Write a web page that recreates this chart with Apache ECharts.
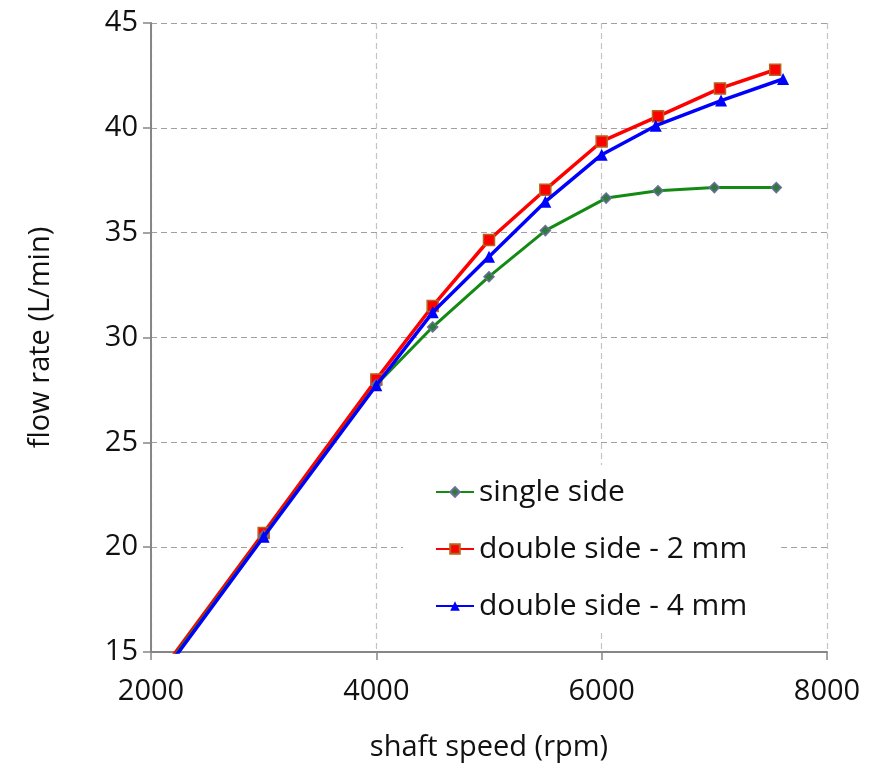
<!DOCTYPE html>
<html>
<head>
<meta charset="utf-8">
<script src="https://cdn.jsdelivr.net/npm/echarts@6/dist/echarts.min.js"></script>
<style>
  html, body { margin: 0; padding: 0; background: #fff; }
  #chart { width: 883px; height: 770px; }
</style>
</head>
<body>
<div id="chart"></div>
<script>
// shaft speed (rpm) / flow rate (L/min)
var single_x = [2000, 3000, 4000, 4500, 5000, 5500, 6040, 6500, 7000, 7550];
var single_y = [13.3, 20.55, 27.75, 30.5, 32.9, 35.1, 36.65, 37.0, 37.15, 37.15];

var double2_x = [2000, 3000, 4000, 4500, 5000, 5500, 6000, 6500, 7050, 7540];
var double2_y = [13.4, 20.68, 28.0, 31.5, 34.65, 37.05, 39.35, 40.55, 41.88, 42.77];

var double4_x = [2000, 3000, 4000, 4500, 5000, 5500, 6000, 6480, 7060, 7610];
var double4_y = [13.2, 20.5, 27.72, 31.2, 33.85, 36.48, 38.72, 40.1, 41.3, 42.33];

var names = ['single side', 'double side - 2 mm', 'double side - 4 mm'];

function pairs(xs, ys) {
  var out = [];
  for (var i = 0; i < xs.length; i++) {
    out.push([xs[i], ys[i]]);
  }
  return out;
}

var font = 'Open Sans';
var chart = echarts.init(document.getElementById('chart'));
chart.setOption({
  animation: false,
  backgroundColor: '#fff',
  grid: { left: 151, right: 56, top: 23, bottom: 118 },
  legend: {
    left: 403,
    top: 465,
    orient: 'vertical',
    backgroundColor: '#fff',
    padding: [12, 34, 10, 32],
    itemWidth: 38,
    itemHeight: 12,
    itemGap: 27,
    textStyle: { fontFamily: font, fontSize: 30, color: '#111' },
    data: names
  },
  xAxis: {
    type: 'value',
    min: 2000,
    max: 8000,
    interval: 2000,
    name: 'shaft speed (rpm)',
    nameLocation: 'middle',
    nameGap: 81,
    nameTextStyle: { fontFamily: font, fontSize: 29, color: '#111' },
    axisLine: { show: true, lineStyle: { color: '#868686', width: 2 } },
    axisTick: { show: true, length: 8, lineStyle: { color: '#868686', width: 1.5 } },
    axisLabel: {
      fontFamily: font, fontSize: 29, color: '#111', margin: 25,
      formatter: function (v) { return String(v); }
    },
    splitLine: { show: true, lineStyle: { color: '#c4c4c4', type: [6, 4], width: 1.2 } }
  },
  yAxis: {
    type: 'value',
    min: 15,
    max: 45,
    interval: 5,
    name: 'flow rate (L/min)',
    nameLocation: 'middle',
    nameGap: 96,
    nameTextStyle: { fontFamily: font, fontSize: 29, color: '#111' },
    axisLine: { show: true, lineStyle: { color: '#868686', width: 2 } },
    axisTick: { show: true, length: 8, lineStyle: { color: '#868686', width: 1.5 } },
    axisLabel: { fontFamily: font, fontSize: 29, color: '#111', margin: 13 },
    splitLine: { show: true, lineStyle: { color: '#a0a0a0', type: [6, 4], width: 1.2 } }
  },
  series: [
    {
      name: names[0],
      type: 'line',
      clip: true,
      data: pairs(single_x, single_y),
      symbol: 'diamond',
      symbolSize: 10,
      z: 3,
      lineStyle: { color: '#138a13', width: 3 },
      itemStyle: { color: '#2f7a3a', borderColor: '#6a6f9a', borderWidth: 1.5 }
    },
    {
      name: names[1],
      type: 'line',
      clip: true,
      data: pairs(double2_x, double2_y),
      symbol: 'rect',
      symbolSize: 11,
      z: 2,
      lineStyle: { color: '#ff0000', width: 3.5 },
      itemStyle: { color: '#ff0000', borderColor: '#b5651d', borderWidth: 1.5 }
    },
    {
      name: names[2],
      type: 'line',
      clip: true,
      data: pairs(double4_x, double4_y),
      symbol: 'triangle',
      symbolSize: 12,
      z: 4,
      lineStyle: { color: '#0000ff', width: 3.5 },
      itemStyle: { color: '#0000ff' }
    }
  ]
});
</script>
</body>
</html>
